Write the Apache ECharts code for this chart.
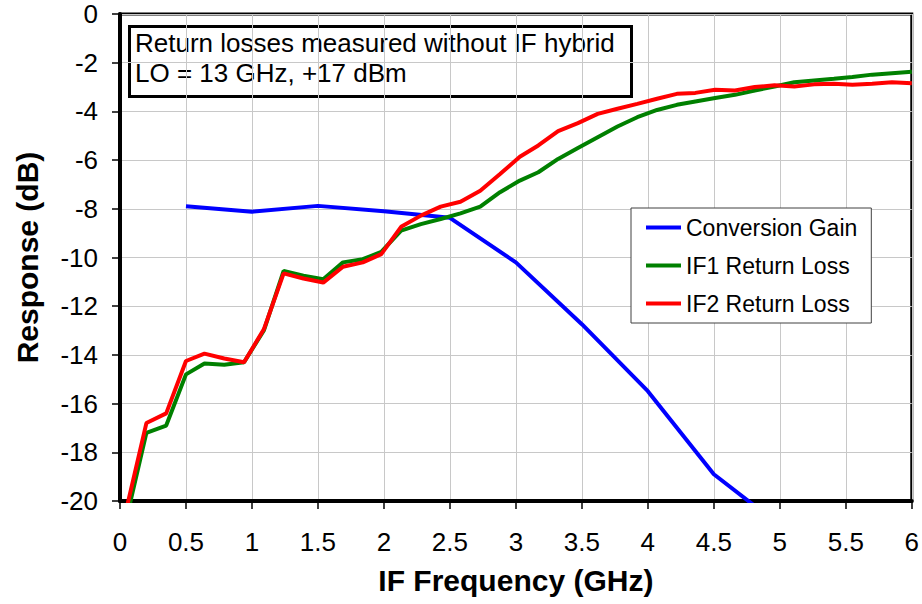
<!DOCTYPE html>
<html>
<head>
<meta charset="utf-8">
<script src="https://cdn.jsdelivr.net/npm/echarts@6/dist/echarts.min.js"></script>
<style>
html,body{margin:0;padding:0;background:#fff;}
#chart{width:922px;height:604px;}
</style>
</head>
<body>
<div id="chart"></div>
<script>
// IF frequency sweep (GHz) for the return-loss traces
var freqRL = [0.05, 0.20, 0.35, 0.50, 0.64, 0.79, 0.94, 1.09, 1.24, 1.39, 1.54,
  1.69, 1.84, 1.98, 2.13, 2.28, 2.43, 2.58, 2.73, 2.88, 3.03,
  3.17, 3.32, 3.47, 3.62, 3.77, 3.92, 4.07, 4.22, 4.36, 4.51,
  4.66, 4.81, 4.96, 5.11, 5.26, 5.41, 5.55, 5.70, 5.85, 6.00];
var if1ReturnLoss = [-20.7, -17.2, -16.9, -14.8, -14.35, -14.4, -14.3, -13.0, -10.55, -10.75, -10.89,
  -10.2, -10.07, -9.77, -8.9, -8.63, -8.42, -8.19, -7.91, -7.32, -6.84,
  -6.5, -5.95, -5.5, -5.06, -4.62, -4.24, -3.94, -3.73, -3.59, -3.45,
  -3.32, -3.14, -2.98, -2.8, -2.73, -2.66, -2.59, -2.49, -2.43, -2.37];
var if2ReturnLoss = [-20.3, -16.8, -16.4, -14.25, -13.95, -14.15, -14.3, -12.95, -10.65, -10.86, -11.03,
  -10.38, -10.2, -9.86, -8.74, -8.28, -7.91, -7.71, -7.26, -6.57, -5.86,
  -5.4, -4.81, -4.48, -4.1, -3.89, -3.69, -3.48, -3.28, -3.24, -3.11,
  -3.14, -3.0, -2.93, -2.98, -2.89, -2.86, -2.91, -2.86, -2.8, -2.84];
// Conversion gain
var freqCG = [0.5, 1.0, 1.5, 2.0, 2.5, 3.0, 3.5, 4.0, 4.5, 5.0];
var convGain = [-7.9, -8.12, -7.88, -8.1, -8.37, -10.2, -12.74, -15.49, -18.9, -21.0];

var seriesNames = ['Conversion Gain', 'IF1 Return Loss', 'IF2 Return Loss'];
var noteLines = ['Return losses measured without IF hybrid', 'LO = 13 GHz, +17 dBm'];
var xTitle = 'IF Frequency (GHz)';
var yTitle = 'Response (dB)';

function pairs(xs, ys) { return xs.map(function (x, i) { return [x, ys[i]]; }); }

var FONT = 'Liberation Sans, Arial, Helvetica, sans-serif';
var chart = echarts.init(document.getElementById('chart'), null, {renderer: 'svg'});
chart.setOption({
  animation: false,
  backgroundColor: '#fff',
  textStyle: {fontFamily: FONT},
  grid: {left: 120, right: 10, top: 14, bottom: 103, show: true, borderColor: '#000', borderWidth: 3, backgroundColor: 'transparent'},
  xAxis: {
    type: 'value', min: 0, max: 6, interval: 0.5,
    name: xTitle, nameLocation: 'middle', nameGap: 64,
    nameTextStyle: {fontFamily: FONT, fontSize: 30, fontWeight: 'bold', color: '#000'},
    axisLine: {show: true, onZero: false, lineStyle: {color: '#000', width: 4}},
    axisTick: {show: true, inside: false, length: 8, lineStyle: {color: '#000', width: 1.5}},
    axisLabel: {fontFamily: FONT, fontSize: 26, color: '#000', margin: 28},
    splitLine: {show: true, lineStyle: {color: '#c8c8c8', width: 1}}
  },
  yAxis: {
    type: 'value', min: -20, max: 0, interval: 2,
    name: yTitle, nameLocation: 'middle', nameGap: 78,
    nameTextStyle: {fontFamily: FONT, fontSize: 30, fontWeight: 'bold', color: '#000'},
    axisLine: {show: true, onZero: false, lineStyle: {color: '#000', width: 4}},
    axisTick: {show: true, inside: false, length: 8, lineStyle: {color: '#000', width: 1.5}},
    axisLabel: {fontFamily: FONT, fontSize: 26, color: '#000', margin: 22},
    splitLine: {show: true, lineStyle: {color: '#c8c8c8', width: 1}}
  },
  legend: {
    orient: 'vertical', left: 631, top: 208,
    backgroundColor: '#fff', borderColor: '#404040', borderWidth: 1,
    padding: [8, 14, 8, 15], itemGap: 15, itemWidth: 35, itemHeight: 4,
    icon: 'rect',
    textStyle: {fontFamily: FONT, fontSize: 23, color: '#000'},
    data: seriesNames
  },
  graphic: [{
    type: 'group', z: 100,
    children: [
      {type: 'rect', shape: {x: 129.5, y: 26.5, width: 502, height: 70}, style: {fill: '#fff', stroke: '#000', lineWidth: 3}},
      {type: 'text', x: 135, y: 28, style: {text: noteLines.join('\n'), font: '26px ' + FONT, fill: '#000', lineHeight: 30}}
    ]
  }],
  series: [
    {name: seriesNames[0], type: 'line', data: pairs(freqCG, convGain), showSymbol: false, symbol: 'none', clip: true,
      lineStyle: {color: '#0000ff', width: 4}, itemStyle: {color: '#0000ff'}},
    {name: seriesNames[1], type: 'line', data: pairs(freqRL, if1ReturnLoss), showSymbol: false, symbol: 'none', clip: true,
      lineStyle: {color: '#008000', width: 4}, itemStyle: {color: '#008000'}},
    {name: seriesNames[2], type: 'line', data: pairs(freqRL, if2ReturnLoss), showSymbol: false, symbol: 'none', clip: true,
      lineStyle: {color: '#ff0000', width: 4}, itemStyle: {color: '#ff0000'}}
  ]
});
</script>
</body>
</html>
